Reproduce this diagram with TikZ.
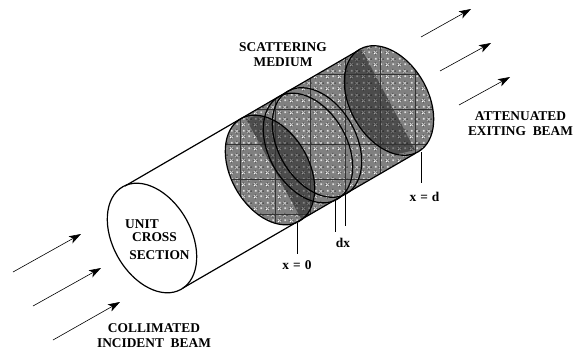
\documentclass[tikz,border=0pt]{standalone}
\usepackage{fontspec}
\setmainfont{Liberation Serif}
\usetikzlibrary{arrows.meta, patterns}
\pgfdeclarepatterninherentlycolored{dither}{\pgfpointorigin}{\pgfqpoint{12pt}{12pt}}{\pgfqpoint{12pt}{12pt}}{
    \pgfsetfillcolor{black!75}
    \foreach \cx in {3,9}{
        \foreach \a/\b in {1/0,-1/0,0/1,0/-1,2/0,-2/0,0/2,0/-2}{
            \pgfpathrectangle{\pgfpoint{\cx pt+\a pt}{\cx pt+\b pt}}{\pgfqpoint{1pt}{1pt}}}}
    \pgfusepath{fill}
    \pgfsetfillcolor{white}
    \foreach \cx in {3,9}{
        \foreach \a/\b in {0/0,1/1,1/-1,-1/1,-1/-1}{
            \pgfpathrectangle{\pgfpoint{\cx pt+\a pt}{\cx pt+\b pt}}{\pgfqpoint{1pt}{1pt}}}}
    \pgfusepath{fill}
    \pgfsetfillcolor{gray!25}
    \foreach \a/\b in {9/3,3/9}{
        \pgfpathrectangle{\pgfqpoint{\a pt}{\b pt}}{\pgfqpoint{2pt}{2pt}}}
    \pgfusepath{fill}
}

\begin{document}
\begin{tikzpicture}[x=1pt, y=-1pt,
    disc/.style={x radius=59, y radius=39, rotate=-60.4},
    outline/.style={draw, line width=1.2pt},
    beam/.style={-{Stealth[length=12pt, width=8pt, inset=3pt]}, line width=0.6pt},
    leader/.style={line width=0.6pt},
    title/.style={font=\bfseries\fontsize{13.4}{15}\selectfont, align=center, inner sep=0pt}]
    \useasboundingbox (0,0) rectangle (587,356);

    \coordinate (entry) at (152,238);
    \coordinate (front) at (270,170);
    \coordinate (sliceA) at (308,148);
    \coordinate (sliceB) at (317,142.5);
    \coordinate (back) at (389,100.5);

    % shaded medium with its grid
    \begin{scope}
        \clip (240,119) -- (359,50) -- (416,153) -- (297,222) -- cycle
            (front) ellipse[disc] (back) ellipse[disc];
        \fill[black!50] (200,30) rectangle (450,240);
        \fill[pattern=dither] (200,30) rectangle (450,240);
        \begin{scope}
            \clip (back) ellipse[disc];
            \fill[black, opacity=0.4] (362,50) -- (415,150) -- (330,170) -- (310,60) -- cycle;
        \end{scope}
        \begin{scope}
            \clip (front) ellipse[disc];
            \fill[black, opacity=0.4] (246,119) -- (303,222) -- (340,200) -- (300,100) -- cycle;
        \end{scope}
        \foreach \gx in {240,275,...,415} \draw[black!80, line width=0.4pt] (\gx,30) -- (\gx,240);
        \foreach \gy in {74,109,...,214} \draw[black!80, line width=0.4pt] (200,\gy) -- (450,\gy);
    \end{scope}

    % cylinder
    \draw[outline] (125,186) -- (359,50);
    \draw[outline] (183,288) -- (416,153);
    \draw[outline] (entry) ellipse[disc];
    \draw[outline] (front) ellipse[disc];
    \draw[outline] (sliceA) ellipse[disc];
    \draw[outline] (sliceB) ellipse[disc];
    \draw[outline] (back) ellipse[disc];

    % beams
    \draw[beam] (13,272) -- (81,234);
    \draw[beam] (33,306) -- (101,268);
    \draw[beam] (53,340) -- (120,302);
    \draw[beam] (421,37) -- (471,9);
    \draw[beam] (440,71) -- (491,43);
    \draw[beam] (459,105) -- (510,77);

    % labels
    \node[title] (medium) at (283,54.5) {SCATTERING\\MEDIUM};
    \node[title] (unit) at (142,224) {UNIT};
    \node[title] (cross) at (154.5,237.5) {CROSS};
    \node[title] (section) at (159.5,255) {SECTION};
    \node[title] (incident) at (154,335.5) {COLLIMATED\\INCIDENT\ \ BEAM};
    \node[title] (exiting) at (520.5,124) {ATTENUATED\\EXITING\ \ BEAM};
    \node[title] (xzero) at (297,265) {x\kern0.7pt{} = \kern0.7pt{}0};
    \node[title] (dx) at (343,243) {dx};
    \node[title] (xd) at (424.5,197) {x\kern0.7pt{} = \kern0.7pt{}d};

    % leaders
    \draw[leader] (297,223) -- (297,254);
    \draw[leader] (335,200) -- (335,232);
    \draw[leader] (345,195) -- (345,226);
    \draw[leader] (421,152) -- (421,183);
\end{tikzpicture}
\end{document}
